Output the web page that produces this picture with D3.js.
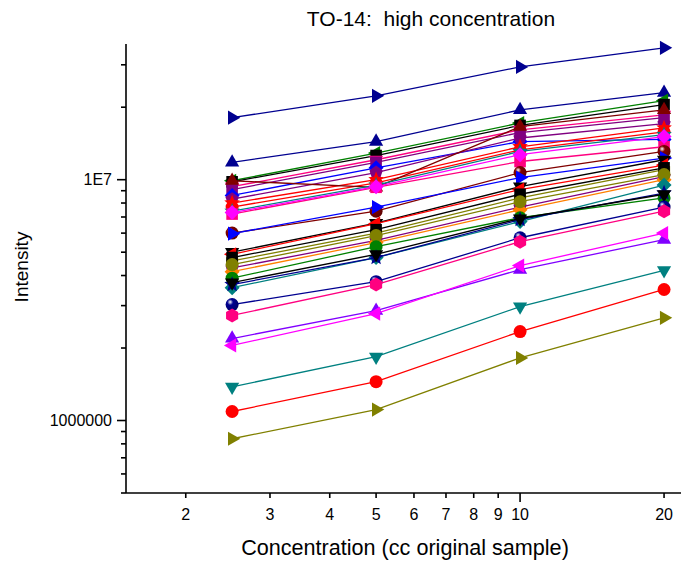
<!DOCTYPE html>
<html><head><meta charset="utf-8">
<script src="https://cdn.jsdelivr.net/npm/d3@7"></script>
<style>html,body{margin:0;padding:0;background:#fff;}svg{display:block;font-family:"Liberation Sans",Arial,sans-serif;}</style>
</head><body>
<svg id="chart" width="681" height="567"></svg>
<script>
const concentrations = [2.5, 5, 10, 20];
const xTickValues = [2, 3, 4, 5, 6, 7, 8, 9, 10, 20];
const yLabelValues = [1e6, 1e7];
const yLabelText = ["1000000", "1E7"];
const title = "TO-14:  high concentration";
const xTitle = "Concentration (cc original sample)";
const yTitle = "Intensity";

// Intensity per series at 2.5, 5, 10, 20 cc
const intensities = [
  [1.81e7, 2.23e7, 2.94e7, 3.53e7],
  [1.18e7, 1.44e7, 1.95e7, 2.30e7],
  [9.9e6, 1.29e7, 1.72e7, 2.13e7],
  [9.8e6, 1.26e7, 1.68e7, 2.05e7],
  [9.35e6, 1.21e7, 1.61e7, 1.86e7],
  [9.1e6, 1.18e7, 1.57e7, 1.81e7],
  [8.6e6, 1.12e7, 1.44e7, 1.47e7],
  [8.3e6, 1.07e7, 1.49e7, 1.71e7],
  [8.0e6, 1.0e7, 1.37e7, 1.64e7],
  [7.7e6, 9.7e6, 1.33e7, 1.58e7],
  [9.9e6, 9.3e6, 1.66e7, 1.95e7],
  [7.4e6, 9.5e6, 1.31e7, 1.54e7],
  [7.2e6, 9.3e6, 1.19e7, 1.37e7],
  [7.3e6, 9.35e6, 1.27e7, 1.51e7],
  [6.0e6, 7.4e6, 1.07e7, 1.31e7],
  [5.97e6, 7.7e6, 1.02e7, 1.23e7],
  [5.0e6, 6.6e6, 9.35e6, 1.21e7],
  [4.9e6, 6.57e6, 9.1e6, 1.15e7],
  [4.6e6, 6.0e6, 8.4e6, 1.10e7],
  [4.75e6, 6.2e6, 8.7e6, 1.12e7],
  [4.3e6, 5.6e6, 7.7e6, 1.03e7],
  [4.15e6, 5.48e6, 7.5e6, 1.0e7],
  [4.44e6, 5.86e6, 8.1e6, 1.05e7],
  [3.9e6, 5.27e6, 6.95e6, 8.4e6],
  [3.56e6, 4.75e6, 6.7e6, 9.5e6],
  [3.67e6, 4.75e6, 6.82e6, 8.8e6],
  [3.74e6, 4.9e6, 6.9e6, 8.7e6],
  [3.03e6, 3.77e6, 5.74e6, 7.7e6],
  [2.73e6, 3.67e6, 5.53e6, 7.4e6],
  [2.19e6, 2.86e6, 4.23e6, 5.64e6],
  [2.05e6, 2.78e6, 4.4e6, 6.0e6],
  [1.38e6, 1.84e6, 2.97e6, 4.2e6],
  [1.09e6, 1.45e6, 2.34e6, 3.5e6],
  [8.4e5, 1.11e6, 1.82e6, 2.67e6]
];
const seriesColors = [
  "#000090","#000090","#008000","#000000","#FF0080","#800080","#0000FF","#800080","#FF0000","#FF0000",
  "#800000","#008080","#FF0080","#FF00FF","#800000","#0000FF","#000000","#FF0000","#808000","#000000",
  "#800080","#FF8000","#808000","#008000","#008080","#000090","#000000","#000090","#FF0080","#8000FF",
  "#FF00FF","#008080","#FF0000","#808000"
];
const seriesMarkers = [
  "right","up","left","square","down","square","diamond","pentagon","star","circle",
  "up","star","square","diamond","sphere","right","down","left","hexagon","square",
  "pentagon","diamond","circle","circle","diamond","star","down","sphere","hexagon","up",
  "left","down","circle","right"
];

const plot = {left: 126, right: 681, top: 44, bottom: 493};
const svg = d3.select("#chart");

const x = d3.scaleLog().domain([1.5, 21.7]).range([plot.left, plot.right]);
const y = d3.scaleLog().domain([5e5, 3.66e7]).range([plot.bottom, plot.top]);

const defs = svg.append("defs");
const sphereColors = Array.from(new Set(seriesColors.filter((c, i) => seriesMarkers[i] === "sphere")));
sphereColors.forEach(c => {
  const g = defs.append("radialGradient").attr("id", "sph" + c.slice(1))
    .attr("cx", "0.35").attr("cy", "0.35").attr("r", "0.65").attr("fx", "0.35").attr("fy", "0.3");
  g.append("stop").attr("offset", "0").attr("stop-color", "#ffffff");
  g.append("stop").attr("offset", "0.35").attr("stop-color", c);
  g.append("stop").attr("offset", "1").attr("stop-color", d3.color(c).darker(0.8));
});

function poly(n, r, rot, inner) {
  const pts = [];
  const m = inner ? n * 2 : n;
  for (let i = 0; i < m; i++) {
    const a = rot + i * Math.PI * 2 / m;
    const rr = inner && (i % 2 === 1) ? inner : r;
    pts.push([rr * Math.cos(a), rr * Math.sin(a)]);
  }
  return "M" + pts.map(p => p[0].toFixed(2) + "," + p[1].toFixed(2)).join("L") + "Z";
}
function markerPath(type) {
  const P = Math.PI;
  switch (type) {
    case "up": return poly(3, 8.2, -P / 2);
    case "down": return poly(3, 8.2, P / 2);
    case "left": return poly(3, 8.2, P);
    case "right": return poly(3, 8.2, 0);
    case "square": return "M-5.8,-5.8H5.8V5.8H-5.8Z";
    case "diamond": return poly(4, 7.5, -P / 2);
    case "star": return poly(5, 8.2, -P / 2, 3.6);
    case "pentagon": return poly(5, 7, -P / 2);
    case "hexagon": return poly(6, 7, P / 2);
    default: return null;
  }
}

const line = d3.line().x(d => x(d[0])).y(d => y(d[1]));

intensities.forEach((vals, i) => {
  const color = seriesColors[i];
  const type = seriesMarkers[i];
  const pts = concentrations.map((c, j) => [c, vals[j]]);
  const g = svg.append("g");
  g.append("path").attr("d", line(pts)).attr("fill", "none")
    .attr("stroke", color).attr("stroke-width", 1.3);
  pts.forEach(p => {
    const cx = x(p[0]), cy = y(p[1]);
    if (type === "circle") {
      g.append("circle").attr("cx", cx).attr("cy", cy).attr("r", 6.5).attr("fill", color);
    } else if (type === "sphere") {
      g.append("circle").attr("cx", cx).attr("cy", cy).attr("r", 6.5)
        .attr("fill", "url(#sph" + color.slice(1) + ")");
    } else {
      g.append("path").attr("d", markerPath(type))
        .attr("transform", `translate(${cx},${cy})`).attr("fill", color);
    }
  });
});

// Axes
const axisG = svg.append("g").attr("stroke", "#000").attr("fill", "none");
axisG.append("line").attr("x1", plot.left).attr("x2", plot.right).attr("y1", plot.bottom).attr("y2", plot.bottom).attr("stroke-width", 1.6);
axisG.append("line").attr("x1", plot.left).attr("x2", plot.left).attr("y1", plot.top).attr("y2", plot.bottom).attr("stroke-width", 1.6);

xTickValues.forEach(v => {
  const len = v === 10 ? 9 : 5;
  axisG.append("line").attr("x1", x(v)).attr("x2", x(v)).attr("y1", plot.bottom).attr("y2", plot.bottom + len).attr("stroke-width", 1.6);
});
svg.append("g").selectAll("text").data(xTickValues).join("text")
  .attr("x", d => x(d)).attr("y", 520).attr("text-anchor", "middle")
  .attr("font-size", 16).attr("fill", "#000").text(d => d);

const yTicks = y.ticks(20).filter(v => v >= 5e5 && v <= 3.66e7);
yTicks.forEach(v => {
  const major = yLabelValues.includes(v);
  axisG.append("line").attr("x1", plot.left - (major ? 9 : 5)).attr("x2", plot.left)
    .attr("y1", y(v)).attr("y2", y(v)).attr("stroke-width", 1.6);
});
svg.append("g").selectAll("text").data(yLabelValues).join("text")
  .attr("x", plot.left - 14).attr("y", d => y(d)).attr("dy", "0.35em")
  .attr("text-anchor", "end").attr("font-size", 16).attr("fill", "#000")
  .text((d, i) => yLabelText[i]);

// titles
svg.append("text").attr("x", 431).attr("y", 26).attr("text-anchor", "middle")
  .attr("font-size", 21).attr("fill", "#000").style("white-space", "pre").text(title);
svg.append("text").attr("x", 405).attr("y", 555).attr("text-anchor", "middle")
  .attr("font-size", 21.6).attr("fill", "#000").text(xTitle);
svg.append("text").attr("transform", "translate(28,267) rotate(-90)").attr("text-anchor", "middle")
  .attr("font-size", 19).attr("fill", "#000").text(yTitle);
</script>
</body></html>
